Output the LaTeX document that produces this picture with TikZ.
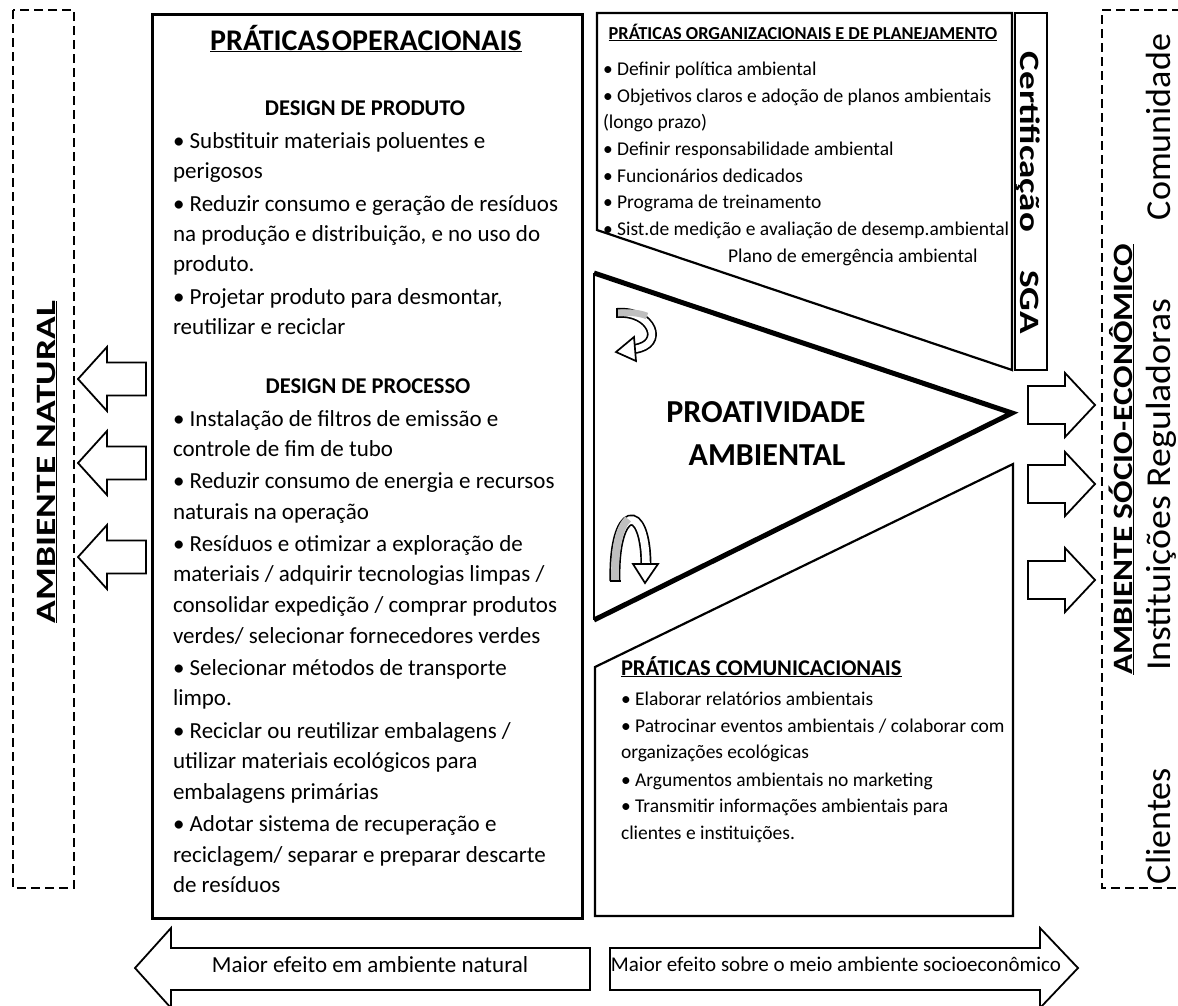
\documentclass[tikz,border=0pt]{standalone}
\usepackage{fontspec}
\setmainfont{Carlito}
\usetikzlibrary{calc}

\tikzset{
  every node/.style={inner sep=0pt, outer sep=0pt},
  frame/.style={line width=2.2pt, line join=miter},
  dashbox/.style={line width=2.8pt, dash pattern=on 9pt off 5pt},
  blockarrow/.style={line width=1.8pt, fill=white, line join=miter},
  optxt/.style={anchor=base west, font=\fontsize{23}{27}\selectfont},
  orgtxt/.style={anchor=base west, font=\fontsize{19.5}{23}\selectfont},
  comtxt/.style={anchor=base west, font=\fontsize{19.5}{23}\selectfont},
  sidetxt/.style={rotate=90, anchor=base, font=\fontsize{35}{40}\selectfont},
}

\begin{document}
\begin{tikzpicture}[x=1pt, y=-1pt]
\useasboundingbox (0,0) rectangle (1178,1005);

% ---------- outer dashed regions ----------
\draw[dashbox] (13,10) rectangle (74,888);
\draw[dashbox] (1195,10) -- (1102,10) -- (1102,888) -- (1195,888);

\node[rotate=90, anchor=base, font=\bfseries\fontsize{28}{32}\selectfont] (natural) at (55,462)
  {\scalebox{1.34}[1]{\underline{AMBIENTE NATURAL}}};
\node[rotate=90, anchor=base, font=\bfseries\fontsize{28}{32}\selectfont] (socio) at (1132,459)
  {\scalebox{1.19}[1]{\underline{AMBIENTE SÓCIO-ECONÔMICO}}};
\node[sidetxt] (comun) at (1170,127) {\scalebox{1.03}[1]{Comunidade}};
\node[sidetxt] (inst) at (1170,485) {\scalebox{1.08}[1]{Instituições Reguladoras}};
\node[sidetxt] (cli) at (1170,826) {\scalebox{1.03}[1]{Clientes}};

% ---------- block arrows towards the environments ----------
\foreach \yc in {379,463,557}
  \draw[blockarrow] (78,\yc) -- (107,\yc-32) -- (107,\yc-16.5) -- (146,\yc-16.5)
        -- (146,\yc+16.5) -- (107,\yc+16.5) -- (107,\yc+32) -- cycle;
\foreach \yc in {405,484,580}
  \draw[blockarrow] (1095,\yc) -- (1065,\yc-32) -- (1065,\yc-19) -- (1028,\yc-19)
        -- (1028,\yc+19) -- (1065,\yc+19) -- (1065,\yc+32) -- cycle;

% ---------- operational practices ----------
\draw[line width=3pt] (152,14) rectangle (582,918);
\node[anchor=base, font=\bfseries\fontsize{30}{34}\selectfont] (ophead) at (366,50)
  {\underline{PRÁTICAS\hspace{2pt}OPERACIONAIS}};
\node[anchor=base, font=\bfseries\fontsize{22.5}{26}\selectfont] (prodhead) at (365,115) {DESIGN DE PRODUTO};
\node[anchor=base, font=\bfseries\fontsize{22.5}{26}\selectfont] (prochead) at (368,393) {DESIGN DE PROCESSO};
\foreach \yy/\txt [count=\i] in {
  148/{• Substituir materiais poluentes e},
  178/{perigosos},
  211/{• Reduzir consumo e geração de resíduos},
  241/{na produção e distribuição, e no uso do},
  271/{produto.},
  304/{• Projetar produto para desmontar,},
  334/{reutilizar e reciclar},
  426/{• Instalação de filtros de emissão e},
  456/{controle de fim de tubo},
  488/{• Reduzir consumo de energia e recursos},
  519/{naturais na operação},
  551/{• Resíduos e otimizar a exploração de},
  581/{materiais / adquirir tecnologias limpas /},
  612/{consolidar expedição / comprar produtos},
  643/{verdes/ selecionar fornecedores verdes},
  675/{• Selecionar métodos de transporte},
  705/{limpo.},
  738/{• Reciclar ou reutilizar embalagens /},
  768/{utilizar materiais ecológicos para},
  799/{embalagens primárias},
  831/{• Adotar sistema de recuperação e},
  862/{reciclagem/ separar e preparar descarte},
  892/{de resíduos}}
  \node[optxt] (op\i) at (173,\yy) {\txt};

% ---------- organizational practices + certification ----------
\draw[frame] (1012,13) -- (597,13) -- (597,230) -- (1012,370) -- cycle;
\draw[frame] (1015,13) rectangle (1047,370);
\node[rotate=-90, anchor=base, font=\bfseries\fontsize{28}{32}\selectfont] (cert) at (1020,142)
  {\scalebox{1.32}[1]{Certificação}};
\node[rotate=-90, anchor=base, font=\bfseries\fontsize{28}{32}\selectfont] (sga) at (1020,302)
  {\scalebox{1.33}[1]{SGA}};
\node[anchor=base, font=\bfseries\fontsize{18.3}{21}\selectfont] (orghead) at (803,39)
  {\underline{PRÁTICAS ORGANIZACIONAIS E DE PLANEJAMENTO}};
\foreach \yy/\txt [count=\i] in {
  75/{•  Definir política ambiental},
  102/{• Objetivos claros e adoção de planos ambientais},
  128/{(longo prazo)},
  155/{• Definir responsabilidade ambiental},
  182/{• Funcionários dedicados},
  208/{• Programa de treinamento},
  235/{• Sist.de medição e avaliação de desemp.ambiental}}
  \node[orgtxt] (org\i) at (603,\yy) {\txt};
\node[orgtxt] (org8) at (728,262) {Plano de emergência ambiental};

% ---------- environmental proactivity ----------
\draw[line width=2pt] (594,273) -- (594,620);
\draw[line width=5pt, line join=miter] (594,273) -- (1012,413) -- (594,620);
\node[anchor=base, font=\bfseries\fontsize{32}{36}\selectfont] (proat1) at (766,422) {PROATIVIDADE};
\node[anchor=base, font=\bfseries\fontsize{32}{36}\selectfont] (proat2) at (767,465) {AMBIENTAL};

% curved arrow near the upper corner
\draw[line width=10pt] (617,313) .. controls (652,310) and (666,345) .. (634,349);
\draw[line width=6.6pt, white] (617,313) .. controls (652,310) and (666,345) .. (634,349);
\draw[line width=6.6pt, gray!50] (617,313) .. controls (630,312) and (640,313) .. (647,316);
\draw[line width=1.7pt] (617,308) -- (617,318);
\draw[blockarrow, line width=1.7pt] (616,352) -- (634,337) -- (636,361) -- cycle;

% curved arrow near the lower corner
\draw[line width=11pt] (615,581) .. controls (613,505) and (646,500) .. (646,566);
\draw[line width=7.6pt, white] (615,581) .. controls (613,505) and (646,500) .. (646,566);
\draw[line width=7.6pt, gray!50] (615,581) .. controls (614.5,548) and (619,528) .. (628,519);
\draw[line width=1.7pt] (609.5,581) -- (620.5,581);
\draw[blockarrow, line width=1.7pt] (645,583) -- (633,564) -- (658,564) -- cycle;

% ---------- communication practices ----------
\draw[frame] (595,667) -- (1013,464) -- (1013,916) -- (595,916) -- cycle;
\node[anchor=base west, font=\bfseries\fontsize{22.5}{26}\selectfont] (comhead) at (621,675)
  {\underline{PRÁTICAS COMUNICACIONAIS}};
\foreach \yy/\txt [count=\i] in {
  705/{•  Elaborar relatórios ambientais},
  732/{• Patrocinar eventos ambientais / colaborar com},
  758/{organizações ecológicas},
  786/{• Argumentos ambientais no marketing},
  812/{• Transmitir informações ambientais para},
  839/{clientes  e instituições.}}
  \node[comtxt] (com\i) at (621,\yy) {\txt};

% ---------- bottom direction arrows ----------
\draw[blockarrow] (135,968) -- (171,928) -- (171,948) -- (590,948) -- (590,990)
      -- (171,990) -- (171,1008) -- cycle;
\draw[blockarrow] (610,948) -- (1040,948) -- (1040,928) -- (1078,968) -- (1040,1008)
      -- (1040,990) -- (610,990) -- cycle;
\node[anchor=base, font=\fontsize{23}{27}\selectfont] (leftlab) at (370,972) {Maior efeito em ambiente natural};
\node[anchor=base, font=\fontsize{21}{25}\selectfont] (rightlab) at (836,971) {Maior efeito sobre o meio ambiente socioeconômico};
\end{tikzpicture}
\end{document}
